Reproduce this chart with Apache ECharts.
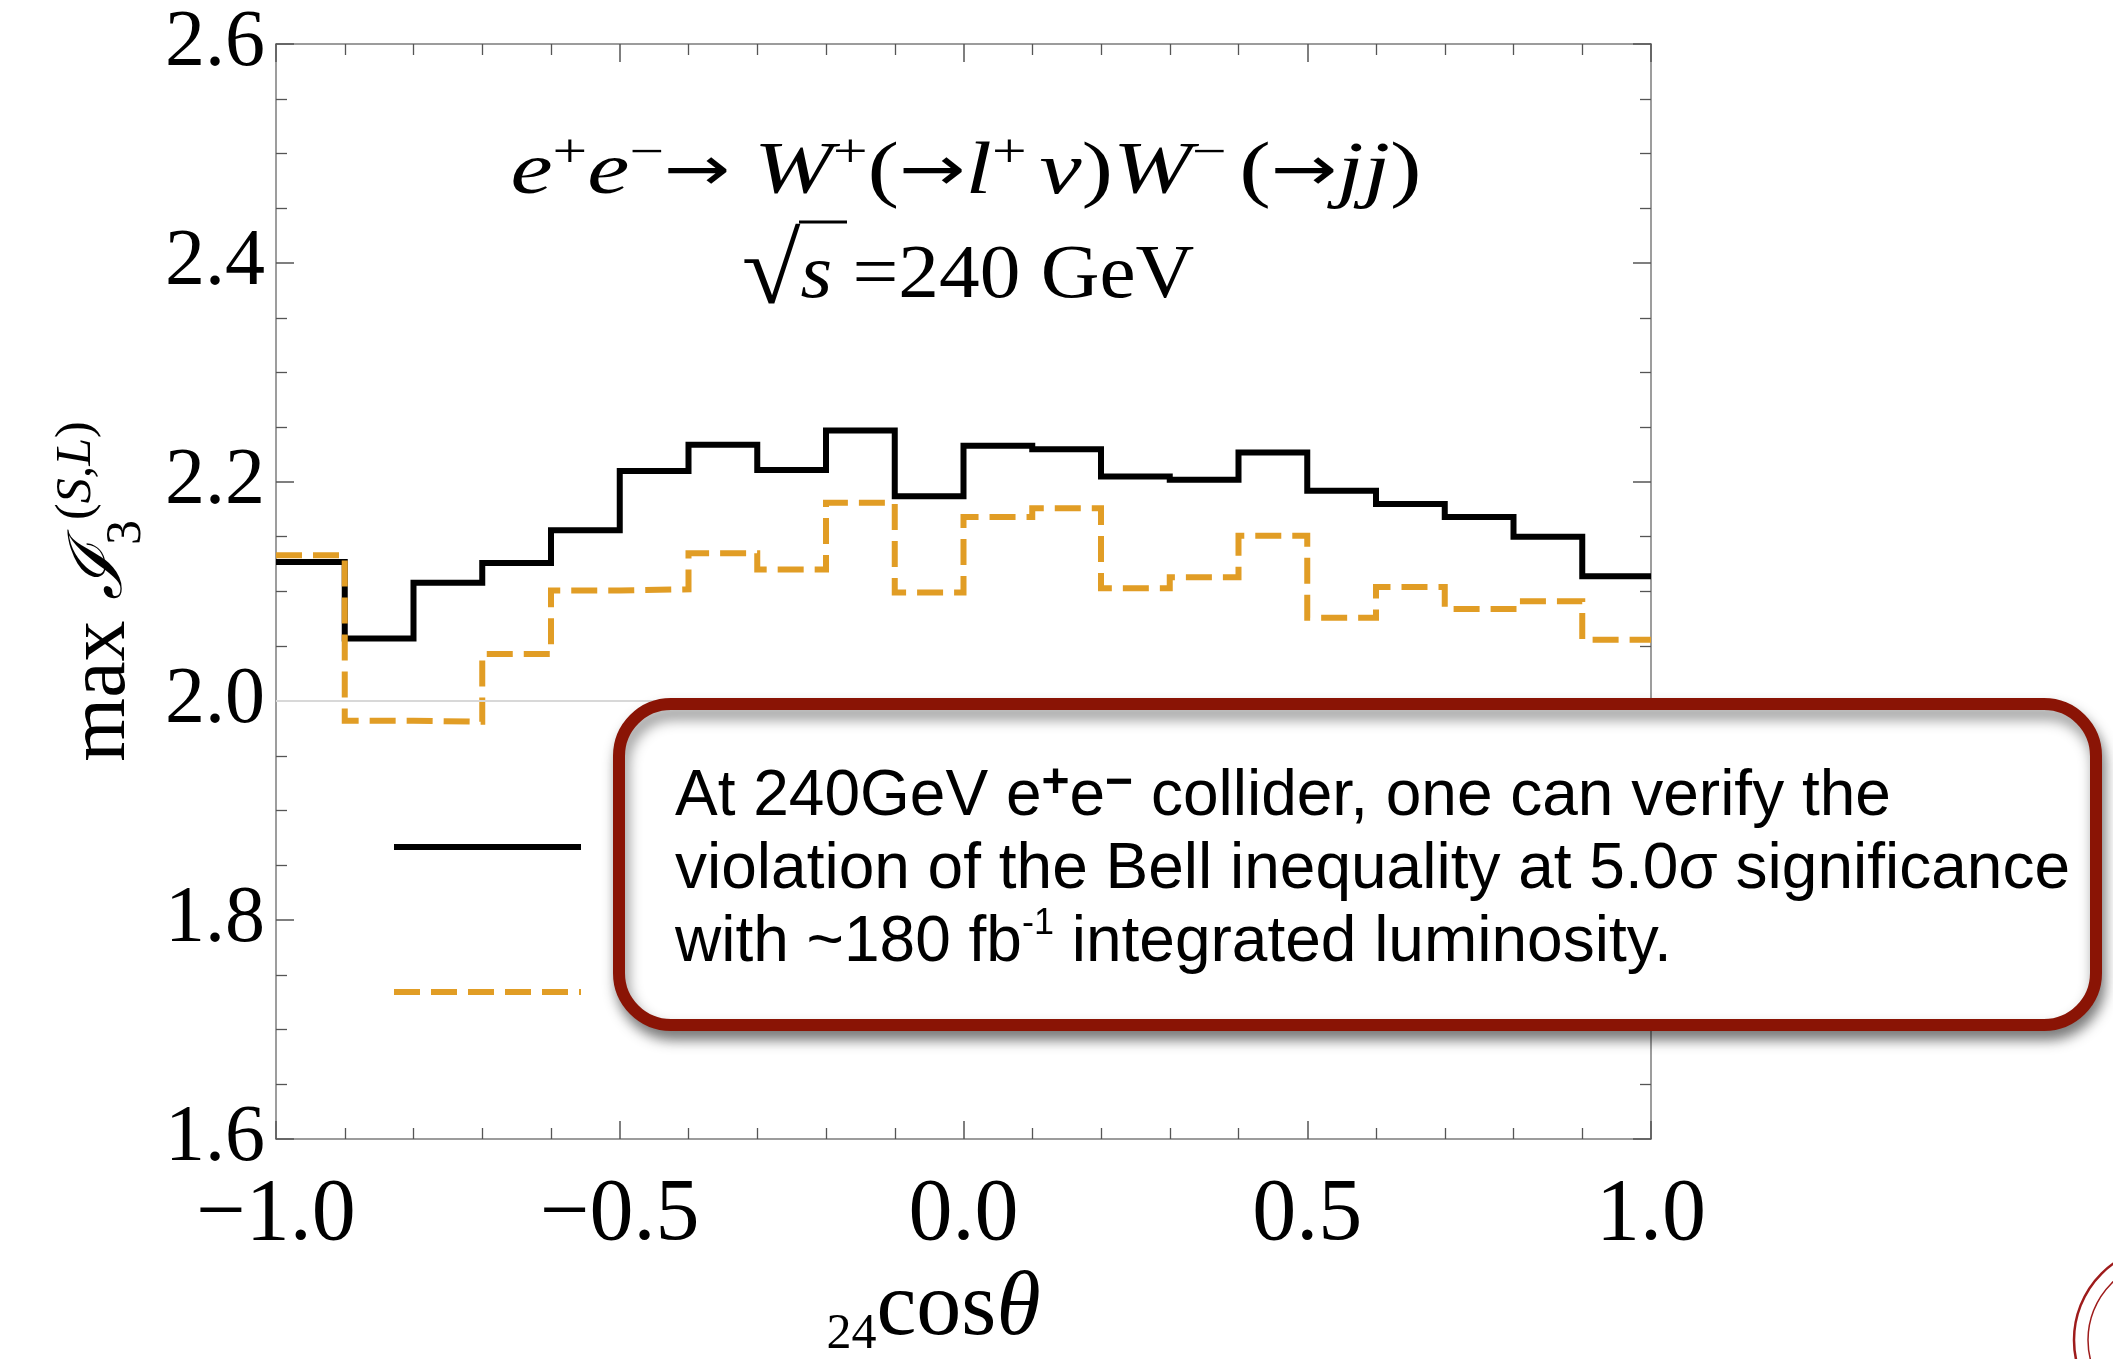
<!DOCTYPE html>
<html>
<head>
<meta charset="utf-8">
<title>max I3 vs cos theta</title>
<script src="https://cdn.jsdelivr.net/npm/echarts@6/dist/echarts.min.js"></script>
<style>
    html, body { margin: 0; padding: 0; background: #fff; }
    #main { width: 2113px; height: 1359px; }
</style>
</head>
<body>
<div id="main"></div>
<script>
    // bin edges in cos(theta), 20 bins of 0.1
    var binEdges = [-1.0, -0.9, -0.8, -0.7, -0.6, -0.5, -0.4, -0.3, -0.2, -0.1, 0.0,
                    0.1, 0.2, 0.3, 0.4, 0.5, 0.6, 0.7, 0.8, 0.9, 1.0];
    // black solid histogram
    var solidVals = [2.127, 2.057, 2.108, 2.126, 2.156, 2.210, 2.234, 2.211, 2.247, 2.187,
                     2.233, 2.230, 2.205, 2.202, 2.227, 2.192, 2.180, 2.168, 2.150, 2.114];
    // orange dashed histogram
    var dashedVals = [2.133, 1.982, 1.981, 2.043, 2.101, 2.102, 2.135, 2.120, 2.181, 2.099,
                      2.168, 2.176, 2.103, 2.113, 2.151, 2.076, 2.104, 2.084, 2.091, 2.056];
    var seriesNames = ['solid', 'dashed'];
    var refLine = 2.0;
    var xRange = [-1.0, 1.0];
    var yRange = [1.6, 2.6];

    var boxLines = [
        '{t|At 240GeV e}{p|+}{t|e}{p|\u2212}{t| collider, one can verify the}',
        '{t|violation of the Bell inequality at 5.0\u03c3 significance}',
        '{t|with ~180 fb}{q|-1}{t| integrated luminosity.}'
    ];

    var axisGray = '#7c7c7c';
    var tickGray = '#555';
    var serif = 'Liberation Serif';

    // histogram -> step points (left edge of each bin, plus closing right edge)
    function toSteps(vals) {
        var pts = [];
        for (var i = 0; i < vals.length; i++) {
            pts.push([binEdges[i], vals[i]]);
        }
        pts.push([binEdges[vals.length], vals[vals.length - 1]]);
        return pts;
    }

    function xAx(pos) {
        var bottom = pos === 'bottom';
        return {
            type: 'value', position: pos, min: xRange[0], max: xRange[1], interval: 0.5,
            axisLine: { show: true, onZero: false, lineStyle: { color: axisGray, width: 1.5 } },
            axisTick: { show: true, inside: true, length: 18, lineStyle: { color: tickGray, width: 1.5 } },
            minorTick: { show: true, splitNumber: 5, length: 11, lineStyle: { color: tickGray, width: 1.3 } },
            splitLine: { show: false },
            minorSplitLine: { show: false },
            axisLabel: {
                show: bottom, margin: 33, color: '#000', fontFamily: serif, fontSize: 88,
                showMinLabel: true, showMaxLabel: true,
                formatter: function (v) { return (v < 0 ? '\u2212' : '') + Math.abs(v).toFixed(1); }
            },
            name: bottom ? '{sb|24}{r|cos}{i|\u03b8}' : '',
            nameLocation: 'middle',
            nameGap: 112,
            nameTextStyle: {
                padding: [0, 60, 0, 0],
                rich: {
                    sb: { fontFamily: serif, fontSize: 50, lineHeight: 46, verticalAlign: 'bottom', color: '#000' },
                    r: { fontFamily: serif, fontSize: 90, lineHeight: 100, color: '#000' },
                    i: { fontFamily: serif, fontStyle: 'italic', fontSize: 90, lineHeight: 100, color: '#000' }
                }
            }
        };
    }

    function yAx(pos) {
        var left = pos === 'left';
        return {
            type: 'value', position: pos, min: yRange[0], max: yRange[1], interval: 0.2,
            axisLine: { show: true, onZero: false, lineStyle: { color: axisGray, width: 1.5 } },
            axisTick: { show: true, inside: true, length: 18, lineStyle: { color: tickGray, width: 1.5 } },
            minorTick: { show: true, splitNumber: 4, length: 11, lineStyle: { color: tickGray, width: 1.3 } },
            splitLine: { show: false },
            axisLabel: {
                show: left, margin: 11, color: '#000', fontFamily: serif, fontSize: 80,
                showMinLabel: true, showMaxLabel: true,
                formatter: function (v) { return v.toFixed(1); }
            },
            name: left ? '{r|max }{c|\u2110}{sb|3}{sp|(}{si|S,L}{sp|)}' : '',
            nameLocation: 'middle',
            nameRotate: 90,
            nameGap: 124,
            nameTextStyle: {
                rich: {
                    r: { fontFamily: serif, fontSize: 82, lineHeight: 100, color: '#000' },
                    c: { fontFamily: 'DejaVu Serif', fontStyle: 'italic', fontSize: 74, lineHeight: 100, color: '#000' },
                    sb: { fontFamily: serif, fontSize: 50, lineHeight: 48, verticalAlign: 'bottom', color: '#000' },
                    sp: { fontFamily: serif, fontSize: 50, lineHeight: 48, verticalAlign: 'top', color: '#000' },
                    si: { fontFamily: serif, fontStyle: 'italic', fontSize: 50, lineHeight: 48, verticalAlign: 'top', color: '#000' }
                }
            }
        };
    }

    var chart = echarts.init(document.getElementById('main'), null, { renderer: 'canvas' });

    var option = {
        backgroundColor: '#fff',
        animation: false,
        grid: { left: 276, right: 462, top: 44, bottom: 220, outerBoundsMode: 'none', containLabel: false },
        xAxis: [xAx('bottom'), xAx('top')],
        yAxis: [yAx('left'), yAx('right')],
        legend: {
            orient: 'vertical', left: 386, top: 832,
            itemWidth: 187, itemHeight: 20, itemGap: 127,
            selectedMode: false,
            data: seriesNames,
            formatter: function () { return ''; },
            textStyle: { fontSize: 10 },
            itemStyle: { opacity: 0, borderWidth: 0 },
            lineStyle: { width: 6 }
        },
        series: [{
            name: seriesNames[0],
            type: 'line', step: 'end', symbol: 'none',
            data: toSteps(solidVals),
            lineStyle: { color: '#000', width: 6, cap: 'butt', join: 'miter' },
            itemStyle: { color: '#000' },
            markLine: {
                silent: true, symbol: ['none', 'none'],
                label: { show: false },
                lineStyle: { color: '#d8d8d8', width: 2, type: 'solid' },
                data: [{ yAxis: refLine }]
            },
            z: 2
        }, {
            name: seriesNames[1],
            type: 'line', step: 'end', symbol: 'none',
            data: toSteps(dashedVals),
            lineStyle: { color: '#E19D25', width: 6, type: [26, 11], cap: 'butt', join: 'miter' },
            itemStyle: { color: '#E19D25' },
            z: 3
        }],
        graphic: [
            // process label
            {
                type: 'text', x: 966, y: 174, z: 50, scaleX: 1.28,
                style: {
                    text: '{i|e}{s|+}{i|e}{s|\u2212}{a|\u2192}{r| }{i|W}{s|+}{r|(}{a|\u2192}{i|l}{s|+}{g| }{i|\u03bd}{r|)}{i|W}{s|\u2212}{g| }{r|(}{a|\u2192}{i|jj}{r|)}',
                    align: 'center', verticalAlign: 'middle',
                    rich: {
                        i: { fontFamily: serif, fontStyle: 'italic', fontSize: 74, lineHeight: 88, fill: '#000' },
                        r: { fontFamily: serif, fontSize: 74, lineHeight: 88, fill: '#000' },
                        g: { fontFamily: serif, fontSize: 40, lineHeight: 40, fill: '#000' },
                        a: { fontFamily: 'DejaVu Sans', fontSize: 62, lineHeight: 88, fill: '#000' },
                        s: { fontFamily: serif, fontSize: 48, lineHeight: 44, verticalAlign: 'top', fill: '#000' }
                    }
                }
            },
            {
                type: 'text', x: 968, y: 277, z: 50, scaleX: 1.07,
                style: {
                    text: '{rad|\u221a}{i|s}{r| =240 GeV}',
                    align: 'center', verticalAlign: 'middle',
                    rich: {
                        rad: { fontFamily: serif, fontSize: 100, lineHeight: 100, fill: '#000' },
                        i: { fontFamily: serif, fontStyle: 'italic', fontSize: 76, lineHeight: 100, fill: '#000' },
                        r: { fontFamily: serif, fontSize: 76, lineHeight: 100, fill: '#000' }
                    }
                }
            },
            {
                type: 'line', z: 50, silent: true,
                shape: { x1: 799, y1: 222, x2: 847, y2: 222 },
                style: { stroke: '#000', lineWidth: 3 }
            },
            // callout box
            {
                type: 'rect', z: 100, silent: true,
                shape: { x: 619, y: 704, width: 1477, height: 321, r: 52 },
                style: {
                    fill: '#fff', stroke: '#8A1405', lineWidth: 12,
                    shadowBlur: 14, shadowOffsetX: 3, shadowOffsetY: 9, shadowColor: 'rgba(0,0,0,0.45)'
                }
            },
            {
                type: 'text', x: 675, y: 797, z: 101,
                style: {
                    text: boxLines[0], verticalAlign: 'middle',
                    rich: {
                        t: { fontFamily: 'Liberation Sans', fontSize: 64, lineHeight: 74, fill: '#000' },
                        p: { fontFamily: 'Liberation Sans', fontWeight: 'bold', fontSize: 48, lineHeight: 44, verticalAlign: 'top', fill: '#000' }
                    }
                }
            },
            {
                type: 'text', x: 675, y: 870, z: 101,
                style: {
                    text: boxLines[1], verticalAlign: 'middle',
                    rich: {
                        t: { fontFamily: 'Liberation Sans', fontSize: 64, lineHeight: 74, fill: '#000' }
                    }
                }
            },
            {
                type: 'text', x: 675, y: 943, z: 101,
                style: {
                    text: boxLines[2], verticalAlign: 'middle',
                    rich: {
                        t: { fontFamily: 'Liberation Sans', fontSize: 64, lineHeight: 74, fill: '#000' },
                        q: { fontFamily: 'Liberation Sans', fontSize: 36, lineHeight: 36, verticalAlign: 'top', fill: '#000' }
                    }
                }
            },
            // corner seal (partly off-canvas)
            {
                type: 'circle', z: 10, silent: true,
                shape: { cx: 2168, cy: 1340, r: 94 },
                style: { fill: 'none', stroke: '#9E1B1B', lineWidth: 2.5 }
            },
            {
                type: 'circle', z: 10, silent: true,
                shape: { cx: 2168, cy: 1340, r: 80 },
                style: { fill: 'none', stroke: '#9E1B1B', lineWidth: 1.5 }
            }
        ]
    };

    chart.setOption(option);
</script>
</body>
</html>
